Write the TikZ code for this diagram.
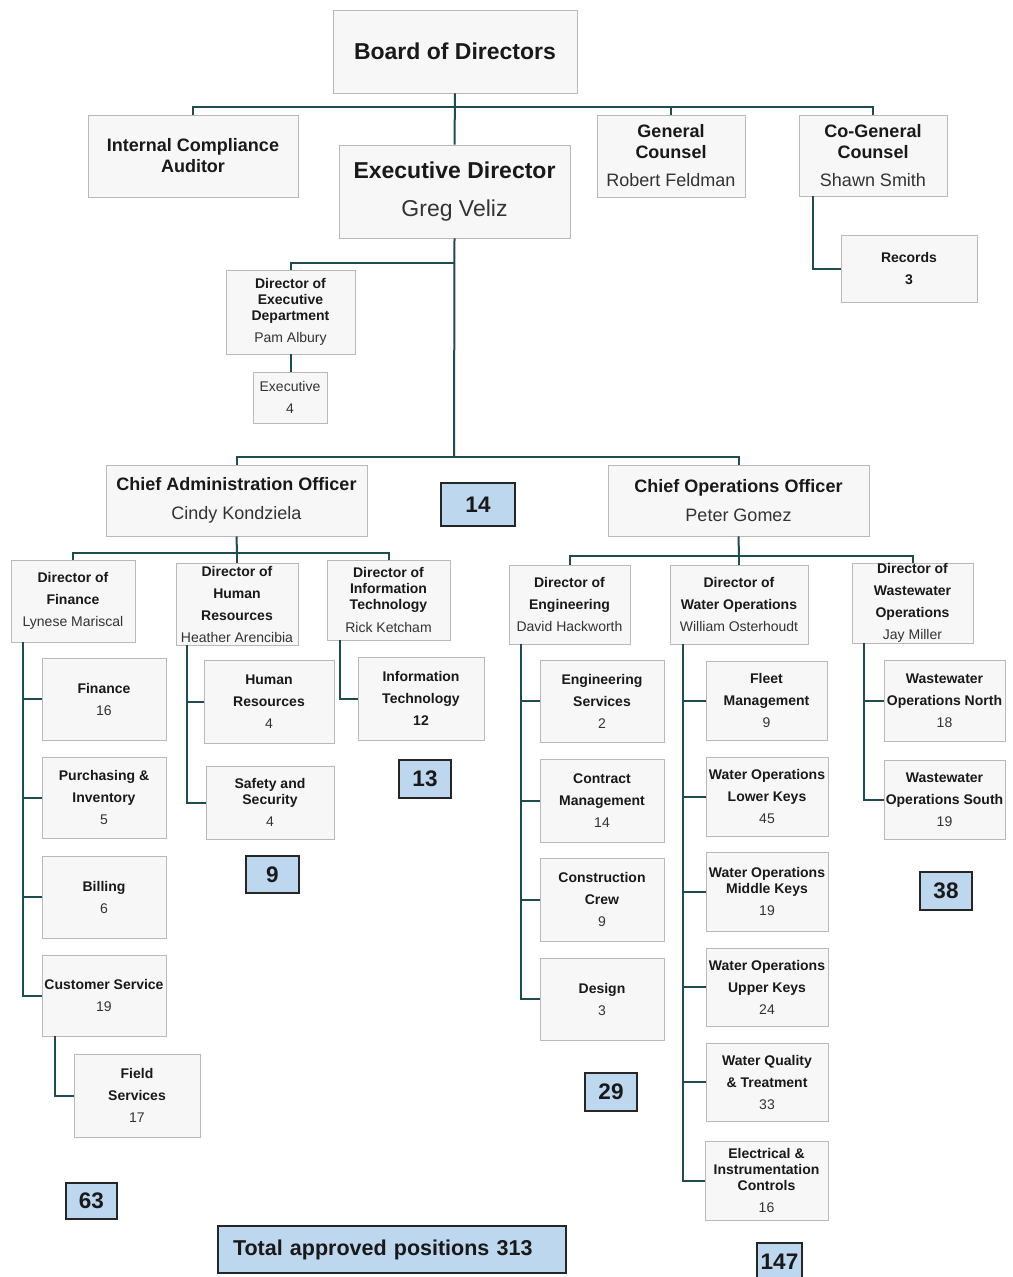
\documentclass[tikz,border=0pt]{standalone}
\usepackage{fontspec}
\setmainfont{Liberation Sans}
\definecolor{conncol}{RGB}{30,76,80}
\definecolor{cntfill}{RGB}{189,215,238}
\definecolor{boxfill}{RGB}{247,247,247}
\newcommand\OB[7]{\node[box,#6,minimum width={(#4-#2)*1pt},minimum height={(#5-#3)*1pt}] (#1) at ({(#2+#4)/2},{(#3+#5)/2}) {#7};}
\newcommand\nm{\mdseries\color{black!80}}
\tikzset{
 box/.style={draw=gray!55, fill=boxfill, line width=0.8pt, inner sep=0pt, align=center, text=black!90},
 cnt/.style={draw=black!85, fill=cntfill, line width=1.3pt, inner sep=0pt, text=black!90, font=\fontsize{22.5}{26}\selectfont\bfseries},
 conn/.style={draw=conncol, line width=2pt},
 fbig/.style={font=\fontsize{23}{38}\selectfont\bfseries},
 fmid/.style={font=\fontsize{18}{21}\selectfont\bfseries},
 fmidb/.style={font=\fontsize{18}{29}\selectfont\bfseries},
 fsm/.style={font=\fontsize{14}{22}\selectfont\bfseries},
 fsmt/.style={font=\fontsize{14}{16}\selectfont\bfseries},
}
\begin{document}
\begin{tikzpicture}[x=1pt,y=-1pt]
\fill[white] (0,0) rectangle (1012,1277);
\useasboundingbox (0,0) rectangle (1012,1277);

% top level
\OB{board}{333}{10}{577}{93}{fbig}{Board of Directors}
\OB{exec}{339}{145}{570}{238}{fbig}{Executive Director\\\nm Greg Veliz}
\OB{ica}{88}{115}{298}{197}{fmid}{Internal Compliance\\Auditor}
\OB{gc}{597}{115}{745}{197}{fmid}{General\\Counsel\\[7pt]\nm Robert Feldman}
\OB{cogc}{799}{115}{947}{196}{fmid}{Co-General\\Counsel\\[7pt]\nm Shawn Smith}
\OB{rec}{841}{235}{977}{302}{fsm}{Records\\3}
\OB{ded}{226}{270}{355}{354}{fsmt}{Director of\\Executive\\Department\\[6pt]\nm Pam Albury}
\OB{exe}{253}{372}{327}{423}{fsm}{\nm Executive\\\nm 4}

% chiefs
\OB{cao}{106}{465}{367}{536}{fmidb}{Chief Administration Officer\\\nm Cindy Kondziela}
\OB{coo}{608}{465}{869}{536}{fmidb}{Chief Operations Officer\\\nm Peter Gomez}
\node[cnt, minimum width=74pt, minimum height=43pt] (c14) at (478,504.5) {14};

% admin directors
\OB{dfin}{11}{560}{135}{642}{fsm}{Director of\\Finance\\\nm Lynese Mariscal}
\OB{dhr}{176}{563}{298}{645}{fsm}{Director of\\Human\\Resources\\\nm Heather Arencibia}
\OB{dit}{327}{560}{450}{640}{fsmt}{Director of\\Information\\Technology\\[7pt]\nm Rick Ketcham}

\OB{fin}{42}{658}{166}{740}{fsm}{Finance\\\nm 16}
\OB{pur}{42}{757}{166}{838}{fsm}{Purchasing \&\\Inventory\\\nm 5}
\OB{bil}{42}{856}{166}{938}{fsm}{Billing\\\nm 6}
\OB{cs}{42}{955}{166}{1036}{fsm}{Customer Service\\\nm 19}
\OB{fs}{74}{1054}{200}{1137}{fsm}{Field\\Services\\\nm 17}
\OB{hr}{204}{660}{334}{743}{fsm}{Human\\Resources\\\nm 4}
\OB{ss}{206}{766}{334}{839}{fsmt}{Safety and\\Security\\[6pt]\nm 4}
\OB{it}{358}{657}{484}{740}{fsm}{Information\\Technology\\12}
\node[cnt, minimum width=53pt, minimum height=37pt] (c9) at (272.5,874.5) {9};
\node[cnt, minimum width=52pt, minimum height=38pt] (c13) at (425,779) {13};
\node[cnt, minimum width=51pt, minimum height=36pt] (c63) at (91.5,1201) {63};

% operations directors
\OB{deng}{509}{565}{630}{644}{fsm}{Director of\\Engineering\\\nm David Hackworth}
\OB{dwo}{670}{565}{808}{644}{fsm}{Director of\\Water Operations\\\nm William Osterhoudt}
\OB{dww}{852}{563}{973}{643}{fsm}{Director of\\Wastewater\\Operations\\\nm Jay Miller}

\OB{es}{540}{660}{664}{742}{fsm}{Engineering\\Services\\\nm 2}
\OB{cm}{540}{759}{664}{842}{fsm}{Contract\\Management\\\nm 14}
\OB{cc}{540}{858}{664}{941}{fsm}{Construction\\Crew\\\nm 9}
\OB{des}{540}{958}{664}{1040}{fsm}{Design\\\nm 3}
\node[cnt, minimum width=52pt, minimum height=38pt] (c29) at (611,1092) {29};

\OB{fl}{706}{661}{827}{740}{fsm}{Fleet\\Management\\\nm 9}
\OB{lk}{706}{757}{828}{836}{fsm}{Water Operations\\Lower Keys\\\nm 45}
\OB{mk}{706}{852}{828}{931}{fsmt}{Water Operations\\Middle Keys\\[6pt]\nm 19}
\OB{uk}{706}{948}{828}{1026}{fsm}{Water Operations\\Upper Keys\\\nm 24}
\OB{wq}{706}{1043}{828}{1121}{fsm}{Water Quality\\\& Treatment\\\nm 33}
\OB{ei}{705}{1141}{828}{1220}{fsmt}{Electrical \&\\Instrumentation\\Controls\\[6pt]\nm 16}
\node[cnt, minimum width=45pt, minimum height=38pt] (c147) at (779.5,1262) {147};

\OB{wn}{884}{660}{1005}{741}{fsm}{Wastewater\\Operations North\\\nm 18}
\OB{ws}{884}{760}{1005}{839}{fsm}{Wastewater\\Operations South\\\nm 19}
\node[cnt, minimum width=52pt, minimum height=38pt] (c38) at (946,891) {38};

\node[cnt, font=\fontsize{21.5}{26}\selectfont\bfseries, minimum height=47pt, text width=318pt, inner xsep=15pt, align=left] (total) at (392,1249.5) {Total approved positions 313};

% connectors
\coordinate (b1) at (454,107);
\draw[conn] (board.south) -- (exec.north);
\draw[conn] (ica.north) -- (ica.north |- b1) -- (cogc.north |- b1) -- (cogc.north);
\draw[conn] (gc.north |- b1) -- (gc.north);
\draw[conn] ([xshift=14pt]cogc.south west) |- (rec.west);

\coordinate (j1) at (454,263);
\coordinate (b2) at (454,457);
\draw[conn] (exec.south) -- (b2);
\draw[conn] (j1) -| (ded.north);
\draw[conn] (ded.south) -- (ded.south |- exe.north);
\draw[conn] (cao.north) |- (b2) -| (coo.north);

\coordinate (b3) at (237,553);
\draw[conn] (cao.south) -- (b3);
\draw[conn] (dfin.north) |- (b3) -| (dit.north);
\draw[conn] (b3) -- (dhr.north);

\coordinate (fc) at ([xshift=12pt]dfin.south west);
\draw[conn] (fc) |- (fin.west);
\draw[conn] (fc) |- (pur.west);
\draw[conn] (fc) |- (bil.west);
\draw[conn] (fc) |- (cs.west);
\draw[conn] ([xshift=13pt]cs.south west) |- (fs.west);

\coordinate (hc) at ([xshift=11pt]dhr.south west);
\draw[conn] (hc) |- (hr.west);
\draw[conn] (hc) |- (ss.west);
\draw[conn] ([xshift=13pt]dit.south west) |- (it.west);

\coordinate (b4) at (739,556);
\draw[conn] (coo.south) -- (b4);
\draw[conn] (deng.north) |- (b4) -| (dww.north);
\draw[conn] (b4) -- (dwo.north);

\coordinate (ec) at ([xshift=12pt]deng.south west);
\draw[conn] (ec) |- (es.west);
\draw[conn] (ec) |- (cm.west);
\draw[conn] (ec) |- (cc.west);
\draw[conn] (ec) |- (des.west);

\coordinate (wc) at ([xshift=13pt]dwo.south west);
\draw[conn] (wc) |- (fl.west);
\draw[conn] (wc) |- (lk.west);
\draw[conn] (wc) |- (mk.west);
\draw[conn] (wc) |- (uk.west);
\draw[conn] (wc) |- (wq.west);
\draw[conn] (wc) |- (ei.west);

\coordinate (vc) at ([xshift=12pt]dww.south west);
\draw[conn] (vc) |- (wn.west);
\draw[conn] (vc) |- (ws.west);
\end{tikzpicture}
\end{document}
